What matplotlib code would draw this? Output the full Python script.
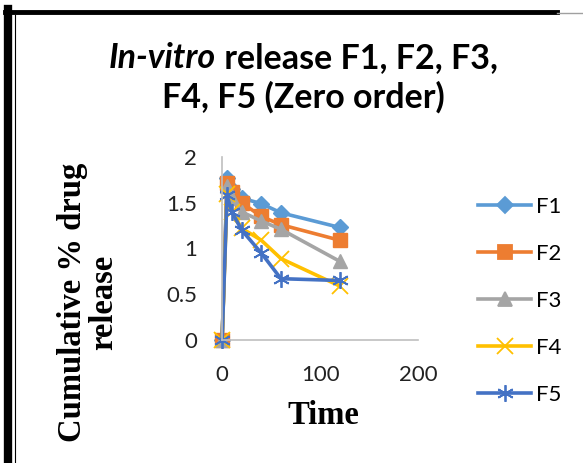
import matplotlib
matplotlib.use("Agg")
import matplotlib.pyplot as plt
from matplotlib.lines import Line2D

# sampling times (min) and release values
time = [0, 5, 10, 20, 40, 60, 120]
f1 = [0, 1.77, 1.65, 1.55, 1.49, 1.39, 1.23]
f2 = [0, 1.71, 1.62, 1.50, 1.35, 1.26, 1.09]
f3 = [0, 1.68, 1.55, 1.40, 1.30, 1.21, 0.86]
f4 = [0, 1.60, 1.40, 1.22, 1.09, 0.89, 0.59]
f5 = [0, 1.58, 1.40, 1.20, 0.95, 0.67, 0.65]
labels = ["F1", "F2", "F3", "F4", "F5"]

series = [f1, f2, f3, f4, f5]
colors = ["#5B9BD5", "#ED7D31", "#A5A5A5", "#FFC000", "#4472C4"]
markers = ["D", "s", "^", "x", (6, 2, 0)]
msizes = [8.5, 10, 10, 11, 12]

W, H = 583, 463
fig = plt.figure(figsize=(W / 100, H / 100), dpi=100)
ax = fig.add_axes([0.381, 0.2657, 0.336, 0.3953])

for y, c, m, ms, lab in zip(series, colors, markers, msizes, labels):
    ax.plot(time, y, color=c, lw=2.6, marker=m, markersize=ms,
            markeredgewidth=1.3 if m in ("x", (6, 2, 0)) else 1,
            markeredgecolor=c, markerfacecolor=c, label=lab,
            solid_joinstyle="round", clip_on=False)

ax.set_xlim(0, 200)
ax.set_ylim(0, 2)
ax.set_xticks([0, 100, 200])
ax.set_yticks([0, 0.5, 1, 1.5, 2])
ax.set_yticklabels(["0", "0.5", "1", "1.5", "2"])
for s in ["top", "right"]:
    ax.spines[s].set_visible(False)
for s in ["left", "bottom"]:
    ax.spines[s].set_color("#bfbfbf")
    ax.spines[s].set_linewidth(1.2)
ax.tick_params(length=0, labelsize=16, colors="#222222", pad=18)
for t in ax.get_xticklabels() + ax.get_yticklabels():
    t.set_fontfamily("Lato")

fig.text(323 / W, 1 - 416 / H, "Time", fontfamily="Liberation Serif",
         fontweight="bold", fontsize=23.5, ha="center", va="center")
fig.text(88 / W, 1 - 302 / H, "Cumulative % drug\nrelease",
         fontfamily="Liberation Serif", fontweight="bold", fontsize=23.5,
         rotation=90, ha="center", va="center", multialignment="center",
         linespacing=1.0)

# title: italic part + bold rest on first line
fs_t = 24.5
r = fig.canvas.get_renderer()
t1 = fig.text(0, 1 - 68 / H, "In-vitro", fontfamily="Lato", fontstyle="italic",
              fontweight="bold", fontsize=fs_t, ha="left", va="baseline")
t2 = fig.text(0, 1 - 68 / H, " release F1, F2, F3,", fontfamily="Lato",
              fontweight="bold", fontsize=fs_t, ha="left", va="baseline")
w1 = t1.get_window_extent(r).width
w2 = t2.get_window_extent(r).width
x0 = 303 - (w1 + w2) / 2
t1.set_x(x0 / W)
t2.set_x((x0 + w1) / W)
fig.text(303 / W, 1 - 108 / H, "F4, F5 (Zero order)", fontfamily="Lato",
         fontweight="bold", fontsize=fs_t, ha="center", va="baseline")

handles = [Line2D([0], [0], color=c, lw=2.6, marker=m, markersize=ms,
                  markeredgecolor=c, markerfacecolor=c, markeredgewidth=1.3)
           for c, m, ms in zip(colors, markers, msizes)]
leg = fig.legend(handles, labels, loc="center left",
                 bbox_to_anchor=(478 / W, 1 - 301 / H),
                 frameon=False, labelspacing=1.22, handlelength=2.4,
                 handletextpad=0.2, borderpad=0, borderaxespad=0,
                 prop={"family": "Lato", "size": 16})

# chart frame lines
fig.add_artist(Line2D([8 / W, 8 / W], [0, 1 - 9 / H], color="black", lw=6,
                      transform=fig.transFigure))
fig.add_artist(Line2D([5 / W, 557 / W], [1 - 11.5 / H, 1 - 11.5 / H],
                      color="black", lw=3.5, transform=fig.transFigure))
fig.add_artist(Line2D([557 / W, 1.0], [1 - 12.5 / H, 1 - 12.5 / H],
                      color="#a0a0a0", lw=1, transform=fig.transFigure))
fig.add_artist(Line2D([14.5 / W, 14.5 / W], [0, 1 - 15 / H], color="black",
                      lw=0.8, transform=fig.transFigure))

fig.savefig("out.png", dpi=100)
